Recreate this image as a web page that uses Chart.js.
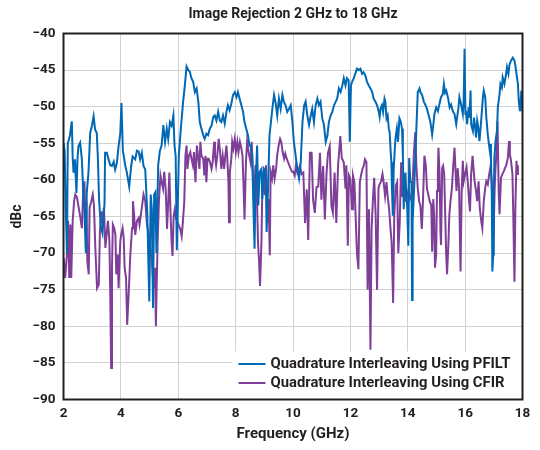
<!DOCTYPE html>
<html>
<head>
<meta charset="utf-8">
<script src="https://cdn.jsdelivr.net/npm/chart.js@4.4.1/dist/chart.umd.min.js"></script>
<style>
  html, body { margin: 0; padding: 0; background: #fff; }
  #wrap { width: 540px; height: 450px; }
</style>
</head>
<body>
<div id="wrap"><canvas id="chart" width="540" height="450"></canvas></div>
<script>
// Image rejection (GHz, dBc)
const chartTitle = 'Image Rejection 2 GHz to 18 GHz';
const seriesNames = ['Quadrature Interleaving Using PFILT', 'Quadrature Interleaving Using CFIR'];

const pfiltFreq = [
  2.00,2.04,2.08,2.12,2.15,2.22,2.29,2.32,2.35,2.40,
  2.45,2.49,2.52,2.58,2.64,2.70,2.73,2.78,2.81,2.87,
  2.93,2.99,3.05,3.10,3.16,3.20,3.24,3.30,3.36,3.43,
  3.45,3.51,3.57,3.63,3.69,3.75,3.80,3.86,3.92,3.98,
  4.02,4.07,4.15,4.21,4.29,4.36,4.41,4.50,4.56,4.62,
  4.67,4.73,4.79,4.85,4.92,4.99,5.04,5.08,5.12,5.16,
  5.20,5.24,5.30,5.36,5.42,5.48,5.54,5.60,5.65,5.71,
  5.77,5.83,5.87,5.91,5.95,6.02,6.09,6.17,6.23,6.29,
  6.35,6.40,6.46,6.52,6.58,6.64,6.70,6.75,6.81,6.87,
  6.92,6.98,7.04,7.10,7.16,7.22,7.27,7.33,7.39,7.45,
  7.50,7.56,7.62,7.68,7.73,7.79,7.85,7.91,7.97,8.03,
  8.08,8.14,8.20,8.26,8.31,8.37,8.43,8.48,8.52,8.58,
  8.61,8.66,8.69,8.75,8.79,8.84,8.90,8.93,8.99,9.05,
  9.08,9.13,9.18,9.22,9.28,9.34,9.40,9.45,9.51,9.57,
  9.63,9.68,9.74,9.80,9.86,9.92,9.98,10.03,10.09,10.15,
  10.21,10.27,10.33,10.39,10.44,10.50,10.56,10.62,10.67,10.73,
  10.79,10.85,10.90,10.96,11.02,11.08,11.14,11.20,11.25,11.31,
  11.37,11.43,11.49,11.54,11.60,11.66,11.72,11.77,11.83,11.88,
  11.94,11.98,12.02,12.06,12.12,12.17,12.23,12.29,12.35,12.41,
  12.46,12.52,12.58,12.64,12.70,12.76,12.81,12.87,12.93,12.99,
  13.02,13.05,13.10,13.14,13.19,13.22,13.26,13.30,13.34,13.37,
  13.40,13.43,13.45,13.48,13.51,13.57,13.62,13.66,13.71,13.76,
  13.80,13.83,13.86,13.89,13.92,13.95,13.98,14.02,14.05,14.09,
  14.13,14.15,14.17,14.21,14.27,14.30,14.35,14.41,14.44,14.50,
  14.56,14.62,14.67,14.73,14.79,14.85,14.89,14.93,14.99,15.05,
  15.10,15.16,15.22,15.26,15.30,15.34,15.40,15.46,15.51,15.57,
  15.63,15.69,15.72,15.77,15.80,15.86,15.92,15.95,15.98,16.01,
  16.03,16.07,16.12,16.15,16.19,16.21,16.27,16.31,16.35,16.38,
  16.42,16.46,16.50,16.56,16.62,16.65,16.70,16.74,16.79,16.83,
  16.86,16.88,16.90,16.93,16.95,16.98,17.00,17.02,17.06,17.11,
  17.14,17.20,17.23,17.28,17.31,17.37,17.43,17.46,17.51,17.55,
  17.60,17.66,17.72,17.76,17.79,17.84,17.87,17.91,17.93,17.96,
  18.00
];
const pfiltDb = [
  -55,-56,-64,-70,-55,-54,-52,-57,-59,-57.2,
  -61.8,-57,-55.4,-54.9,-57.2,-62.7,-64.5,-70,-61.8,-59,
  -53.6,-52.6,-51.3,-53.1,-53.6,-57.2,-62.7,-66.3,-67.3,-63.2,
  -56.3,-56.3,-57.2,-58,-58.1,-57.5,-58.6,-57.7,-55.4,-53.6,
  -49.5,-56,-58,-59,-60.9,-58.1,-56.8,-57.2,-56,-56.1,
  -57.2,-56.3,-58.1,-58.6,-64.5,-76.6,-62,-64,-77.5,-62,
  -61.7,-70,-58,-56,-55.3,-52.5,-54.8,-53,-54.4,-52.1,
  -52.6,-51.2,-55.3,-56.7,-69.6,-56.7,-53,-49.3,-47.1,-44.5,
  -45,-45.2,-46.1,-46.6,-48,-47.5,-49.3,-52.1,-53,-53.9,
  -54.4,-53.7,-53.9,-53,-52.6,-51.4,-51.2,-51.9,-50.7,-51.9,
  -52.1,-51.2,-52.3,-50.7,-49.8,-50.5,-49.6,-48.4,-48,-48.7,
  -48,-48.9,-49.8,-50.7,-52.1,-53,-53.9,-55.3,-55.3,-56.6,
  -62.1,-69.4,-61.2,-55.3,-63.5,-58.9,-58.5,-62.6,-58.5,-58.9,
  -67.1,-61.2,-53.9,-52.5,-50.3,-48.4,-49.6,-51.2,-48.9,-50.3,
  -48.4,-49.3,-49.8,-50.7,-50.3,-49.8,-52.1,-54.8,-56.6,-58.5,
  -59.8,-57.6,-52.1,-49.8,-49.3,-51.2,-52.5,-51.2,-50.3,-52.1,
  -49.8,-48.9,-49.8,-49.3,-51.6,-52.5,-54.8,-53.9,-52.1,-51.2,
  -50.7,-49.8,-49.3,-48.9,-47.5,-48,-47.1,-46.1,-47.1,-46.1,
  -46.4,-54.8,-47.1,-46.6,-46.1,-45.5,-44.8,-45,-44.8,-45.5,
  -45.3,-45.7,-46.6,-47.1,-47.5,-48,-48.9,-49.3,-49.8,-50.7,
  -51.4,-50.3,-49.8,-50.7,-48.9,-49.3,-51.6,-51.2,-53,-53.5,
  -55.8,-57.6,-61.2,-64.9,-58.5,-54.4,-53,-54.8,-51.6,-52.1,
  -53,-56.7,-64,-59.9,-59,-62.2,-63.5,-69,-57,-60.3,
  -60.3,-76.4,-65.8,-62.2,-56.7,-53,-48,-47.5,-48,-48.4,
  -49.3,-49.8,-50.3,-51.2,-52.1,-53.8,-52.5,-51,-50.1,-50.6,
  -49.7,-48.7,-48.3,-46.9,-48.1,-47.8,-48.7,-50.1,-49.7,-50.6,
  -51,-52.4,-51.5,-50.1,-48.7,-49.7,-51,-49.2,-42.1,-51,
  -50.6,-52.4,-50.1,-51.5,-47.8,-52.4,-53.3,-51.5,-52.9,-54.2,
  -51.9,-52.9,-54.7,-51.9,-48.7,-47.8,-48.7,-51.5,-53.8,-55.1,
  -56,-55.1,-57,-62,-72.5,-70.2,-62.4,-57,-54.7,-53.3,
  -50.1,-48.3,-46.9,-47.4,-46,-46.9,-45.5,-44.6,-45.5,-44.2,
  -43.7,-43.3,-43.7,-44.6,-45.5,-46.9,-49.2,-50.6,-49.7,-47.8,
  -50.8
];

const cfirFreq = [
  2.01,2.06,2.12,2.16,2.20,2.24,2.27,2.32,2.37,2.41,
  2.47,2.53,2.59,2.64,2.69,2.73,2.76,2.80,2.83,2.88,
  2.91,2.97,3.02,3.06,3.11,3.17,3.23,3.27,3.32,3.36,
  3.41,3.46,3.50,3.55,3.60,3.63,3.66,3.69,3.72,3.77,
  3.81,3.84,3.89,3.92,3.98,4.01,4.06,4.10,4.13,4.18,
  4.22,4.27,4.33,4.39,4.42,4.46,4.50,4.56,4.62,4.65,
  4.70,4.73,4.79,4.85,4.91,4.97,5.03,5.08,5.14,5.19,
  5.22,5.28,5.33,5.38,5.42,5.47,5.51,5.56,5.61,5.65,
  5.69,5.73,5.77,5.80,5.84,5.88,5.93,5.98,6.02,6.07,
  6.12,6.16,6.21,6.25,6.29,6.32,6.37,6.42,6.46,6.51,
  6.55,6.60,6.65,6.69,6.74,6.77,6.81,6.87,6.91,6.95,
  6.98,7.02,7.06,7.11,7.16,7.20,7.25,7.28,7.32,7.36,
  7.41,7.46,7.50,7.55,7.60,7.64,7.68,7.71,7.75,7.77,
  7.80,7.85,7.88,7.92,7.97,8.01,8.06,8.10,8.15,8.20,
  8.24,8.28,8.31,8.36,8.40,8.47,8.52,8.56,8.61,8.64,
  8.69,8.73,8.78,8.82,8.85,8.90,8.93,8.97,9.01,9.06,
  9.11,9.15,9.19,9.22,9.27,9.31,9.36,9.41,9.45,9.50,
  9.55,9.59,9.64,9.69,9.73,9.78,9.83,9.87,9.92,9.97,
  10.01,10.06,10.10,10.15,10.24,10.30,10.36,10.42,10.48,10.53,
  10.59,10.65,10.70,10.76,10.82,10.88,10.94,10.99,11.05,11.11,
  11.17,11.22,11.28,11.34,11.39,11.45,11.51,11.57,11.65,11.70,
  11.77,11.83,11.86,11.91,11.95,12.00,12.06,12.09,12.14,12.19,
  12.23,12.28,12.33,12.37,12.42,12.47,12.51,12.56,12.60,12.65,
  12.70,12.74,12.79,12.83,12.88,12.93,12.98,13.02,13.07,13.12,
  13.16,13.21,13.26,13.30,13.35,13.40,13.44,13.49,13.53,13.58,
  13.63,13.67,13.72,13.77,13.81,13.86,13.91,13.95,14.00,14.05,
  14.09,14.15,14.21,14.26,14.30,14.35,14.40,14.44,14.49,14.53,
  14.58,14.63,14.67,14.72,14.77,14.82,14.85,14.89,14.92,14.95,
  14.99,15.02,15.05,15.07,15.11,15.14,15.16,15.20,15.23,15.27,
  15.30,15.34,15.37,15.42,15.45,15.49,15.54,15.58,15.63,15.67,
  15.70,15.74,15.79,15.84,15.88,15.92,15.95,16.00,16.05,16.09,
  16.14,16.17,16.21,16.26,16.29,16.33,16.38,16.42,16.47,16.51,
  16.56,16.60,16.65,16.70,16.74,16.79,16.84,16.88,16.93,16.96,
  16.99,17.03,17.06,17.10,17.13,17.17,17.20,17.25,17.30,17.35,
  17.40,17.44,17.49,17.53,17.56,17.60,17.65,17.68,17.72,17.75,
  17.79,17.82,17.84
];
const cfirDb = [
  -70.7,-73.4,-70.2,-65.6,-73.4,-66.1,-73.4,-65.6,-62.9,-62,
  -62.4,-63.8,-65.2,-66.6,-61.1,-60.2,-65.2,-62.9,-71.1,-72.9,
  -63.8,-62.9,-62,-63.4,-69.3,-74.8,-74.3,-67,-64.3,-65.6,
  -63.8,-69.3,-67.5,-65.6,-68.4,-75.7,-85.7,-72,-66.1,-66.6,
  -67.5,-72.9,-70.2,-74.8,-68.4,-67.5,-66.6,-68,-72,-73.4,
  -79.8,-75.7,-70.2,-66.6,-62.9,-64.7,-67.5,-65.6,-65.2,-66.1,
  -64.7,-63.8,-62,-62.9,-66.1,-67.5,-69.3,-71.1,-74.8,-72,
  -80,-68.6,-62.6,-59.4,-60.3,-61.2,-58.9,-61.2,-66.7,-63,
  -59,-64.5,-68.6,-70.4,-64.9,-64,-65.4,-65.8,-66.3,-66.7,
  -67.7,-65.8,-63,-56.7,-55.3,-58.5,-56.7,-56.2,-57.1,-58,
  -56.2,-60.3,-55.3,-56.7,-58.5,-54.8,-56.7,-57.1,-59.4,-56.7,
  -60.3,-57.1,-57.1,-57.6,-58.5,-57.6,-54.8,-56.7,-58,-56.7,
  -54.4,-56.2,-58.5,-56.7,-58.5,-56.7,-55.3,-57.1,-60.3,-65.8,
  -58.9,-57.1,-54.8,-55.7,-54.4,-56.2,-54.8,-56.2,-54.8,-55.7,
  -56.7,-61.2,-65.4,-57.6,-54.8,-56.6,-57.6,-54.8,-60.3,-63,
  -58,-60.3,-68.5,-71.3,-74.5,-68.5,-61.2,-58.9,-62.1,-58,
  -65.8,-62.6,-70.3,-58.9,-59.8,-58,-59.8,-58.5,-56.6,-55.3,
  -54.4,-54.8,-56.2,-57.1,-56.4,-57.1,-57.6,-58,-58.5,-58.9,
  -58.9,-59.4,-58.1,-59,-58.1,-59.2,-59,-65.9,-61.3,-68.2,
  -56.3,-56.3,-62.7,-64.5,-61,-60.9,-56.3,-62.7,-58.1,-65.4,
  -59,-56.3,-55.4,-63.6,-64.5,-59,-65.9,-58.1,-54,-57,
  -57.6,-61.2,-58,-69,-59.4,-59.9,-64,-59.4,-60.3,-65.7,
  -70,-72.2,-60.3,-59.4,-58.5,-58,-57.2,-57.6,-75,-64,
  -83.2,-66.6,-62.4,-59.7,-64.7,-75,-61.1,-60.6,-60.2,-59.2,
  -60.3,-62.2,-60.3,-62.2,-64,-66.7,-68.6,-76.8,-64.9,-60.8,
  -60.3,-70,-65.8,-57.6,-62.2,-62.2,-62.6,-61.2,-62.2,-61.7,
  -62.6,-62.2,-56.7,-53.5,-58,-61.2,-63,-63.5,-66.7,-63,
  -56.7,-58,-61.2,-62.1,-63,-63.4,-69.8,-62.6,-64.8,-72,
  -70.2,-61.5,-59.2,-55.6,-59.2,-67.1,-68.9,-58.4,-58.1,-59.2,
  -63.8,-70.2,-72.9,-68.4,-64.7,-62.9,-61.1,-58.4,-55.6,-59.2,
  -61.5,-58.4,-61.1,-72.5,-61.5,-57.4,-60.2,-59.2,-58.3,-60.2,
  -62.9,-64.3,-59.2,-56.7,-58.3,-60.2,-61.5,-62.9,-60.2,-63.8,
  -65.6,-66.6,-62.9,-61.1,-60.2,-60.6,-59.2,-58.3,-60.2,-66.6,
  -67.8,-61.1,-58.3,-56,-52,-61.5,-64.7,-59.7,-59.2,-58.8,
  -58.3,-57.9,-57,-54.7,-56.5,-57.4,-59.2,-65.1,-73.9,-64,
  -57.4,-59.2,-58
];

const seriesColors = ['#0068b5', '#7f3f98'];
const textColor = '#231f20';
const fontFamily = 'Roboto, "Liberation Sans", sans-serif';

function points(xs, ys) {
    return xs.map((x, i) => ({ x: x, y: ys[i] }));
}

// title, legend (bottom right, inside the plot) and the black frame
const framePlugin = {
    id: 'framePlugin',
    afterDatasetsDraw(chart) {
        const { ctx, chartArea: a } = chart;
        ctx.save();

        // legend box
        ctx.fillStyle = '#fff';
        ctx.fillRect(a.right - 290, a.bottom - 48, 290, 48);
        ctx.font = 'bold 14.8px ' + fontFamily;
        ctx.textBaseline = 'middle';
        ctx.textAlign = 'left';
        chart.data.datasets.forEach((ds, i) => {
            const y = a.bottom - 35.5 + i * 19;
            ctx.strokeStyle = ds.borderColor;
            ctx.lineWidth = 2;
            ctx.beginPath();
            ctx.moveTo(a.right - 284, y);
            ctx.lineTo(a.right - 257, y);
            ctx.stroke();
            ctx.fillStyle = textColor;
            ctx.fillText(ds.label, a.right - 252, y + 0.5);
        });

        // frame
        ctx.strokeStyle = textColor;
        ctx.lineWidth = 2;
        ctx.strokeRect(a.left, a.top, a.right - a.left, a.bottom - a.top);

        // title centred on the plot area
        ctx.font = 'bold 14px ' + fontFamily;
        ctx.textAlign = 'center';
        ctx.fillStyle = textColor;
        ctx.fillText(chartTitle, (a.left + a.right) / 2, 14);
        ctx.restore();
    }
};

const ctx = document.getElementById('chart').getContext('2d');
new Chart(ctx, {
    type: 'line',
    data: {
        datasets: [
            {
                label: seriesNames[0],
                data: points(pfiltFreq, pfiltDb),
                borderColor: seriesColors[0],
                borderWidth: 2,
                pointRadius: 0,
                tension: 0
            },
            {
                label: seriesNames[1],
                data: points(cfirFreq, cfirDb),
                borderColor: seriesColors[1],
                borderWidth: 2,
                pointRadius: 0,
                tension: 0
            }
        ]
    },
    options: {
        responsive: false,
        animation: false,
        layout: { padding: { top: 33.5, right: 17.5, left: 0, bottom: 0 } },
        plugins: {
            legend: { display: false },
            title: { display: false },
            tooltip: { enabled: false }
        },
        scales: {
            x: {
                type: 'linear',
                min: 2,
                max: 18,
                afterFit: s => { s.height = 50.5; },
                ticks: {
                    stepSize: 2,
                    padding: 6,
                    color: textColor,
                    font: { family: fontFamily, size: 13.5, weight: 'bold' }
                },
                grid: { color: '#d2d2d2', drawTicks: false },
                border: { display: false },
                title: {
                    display: true,
                    text: 'Frequency (GHz)',
                    color: textColor,
                    font: { family: fontFamily, size: 15, weight: 'bold' },
                    padding: { top: 0, bottom: 7 }
                }
            },
            y: {
                min: -90,
                max: -40,
                afterFit: s => { s.width = 63.5; },
                ticks: {
                    stepSize: 5,
                    padding: 8,
                    color: textColor,
                    font: { family: fontFamily, size: 13.5, weight: 'bold' },
                    callback: v => String(v).replace('-', '\u2212')
                },
                grid: { color: '#d2d2d2', drawTicks: false },
                border: { display: false },
                title: {
                    display: true,
                    text: 'dBc',
                    color: textColor,
                    font: { family: fontFamily, size: 14, weight: 'bold' },
                    padding: { top: 9, bottom: 0 }
                }
            }
        }
    },
    plugins: [framePlugin]
});
</script>
</body>
</html>
